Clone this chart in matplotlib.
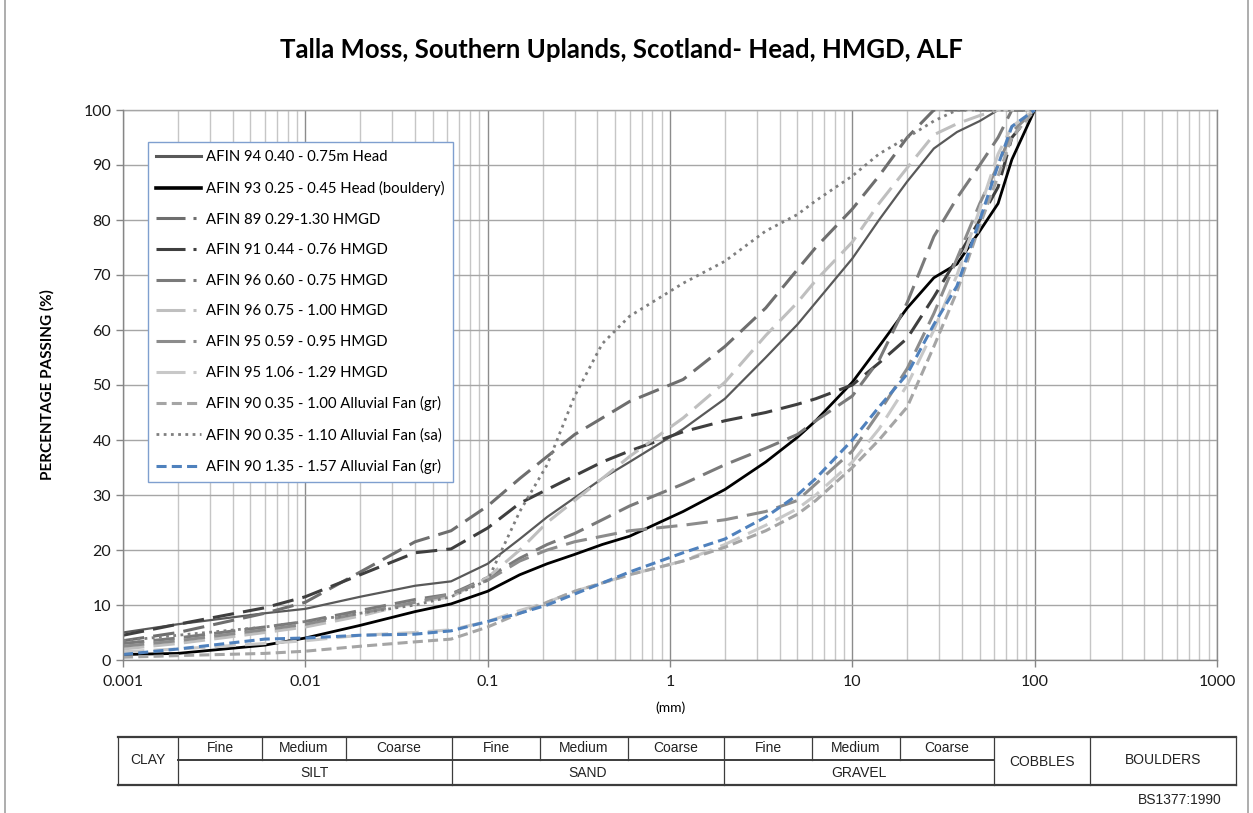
import matplotlib
matplotlib.use("Agg")
import matplotlib.pyplot as plt
from matplotlib.lines import Line2D
from matplotlib.ticker import LogLocator, FixedLocator, NullFormatter

plt.rcParams['font.family'] = ['Lato', 'DejaVu Sans']

# ---- particle size distribution data -------------------------------------
sizes_mm = [0.001, 0.002, 0.006, 0.01, 0.02, 0.04, 0.063, 0.1, 0.15, 0.212,
            0.3, 0.425, 0.6, 1.18, 2, 3.35, 5, 6.3, 10, 14, 20, 28, 37.5, 50,
            63, 75, 100]

afin94_head = [5.0, 6.5, 8.5, 9.3, 11.5, 13.5, 14.3, 17.5, 22, 26, 29.5, 33, 36,
               42, 47.5, 55, 61, 65, 73, 80, 87, 93, 96, 98, 100, 100, 100]
afin93_head = [1.0, 1.2, 2.7, 4.0, 6.3, 8.8, 10.2, 12.5, 15.5, 17.5, 19.2, 21,
               22.5, 27, 31, 36, 40.5, 43.5, 50.5, 57, 64, 69.5, 72, 78, 83, 91, 100]
afin89_hmgd = [3.5, 5.0, 8.5, 10.5, 16, 21.5, 23.5, 28, 33, 37, 41, 44, 47, 51,
               57, 64, 71, 75, 82, 88, 95, 100, 100, 100, 100, 100, 100]
afin91_hmgd = [4.5, 6.5, 9.5, 11.5, 15.5, 19.5, 20.2, 24, 28.5, 31, 33.5, 36, 38,
               41.5, 43.5, 45, 46.5, 47.5, 50, 54, 58.5, 66, 73, 80, 86, 95, 100]
afin96a_hmgd = [3.0, 4.0, 6.0, 7.0, 9.0, 11, 12, 15, 18.5, 21, 23, 25.5, 28, 32,
                35.5, 38.5, 41, 43.5, 48, 54.5, 65, 77, 84, 90, 95, 100, 100]
afin96b_hmgd = [2.0, 3.0, 5.0, 6.0, 8.0, 10.5, 11.5, 15, 20, 25, 29, 33, 37, 44,
                50.5, 59, 65, 69, 76, 83, 89.5, 95.5, 97.5, 99, 100, 100, 100]
afin95a_hmgd = [2.5, 3.5, 5.5, 6.5, 8.5, 10.5, 12, 14.5, 18, 20, 21.5, 22.5, 23.5,
                24.5, 25.5, 27, 29, 32, 38, 45, 53, 63, 73, 83, 90, 96, 100]
afin95b_hmgd = [1.5, 2.0, 3.0, 3.5, 4.5, 5.0, 5.5, 7, 9, 10.5, 12.5, 14, 15.5, 18,
                21, 24.5, 27.5, 30, 36, 42, 50, 60, 70, 82, 92, 97, 100]
afin90a_alf = [0.5, 0.8, 1.2, 1.6, 2.5, 3.3, 3.8, 6, 8.5, 10.5, 12.5, 14, 15.5,
               18, 20.5, 23.5, 26.5, 29, 35, 40, 46, 57, 67, 79, 88, 95, 100]
afin90b_alf = [3.5, 4.5, 6, 7, 8.5, 10, 11.5, 14.5, 27, 35.5, 48, 57.5, 62.5,
               68.5, 72.5, 78, 81, 83.5, 88, 92, 95, 98, 100, 100, 100, 100, 100]
afin90c_alf = [1.0, 2.0, 3.8, 4.0, 4.5, 4.7, 5.3, 7, 8.5, 10, 12, 14, 16, 19.5,
               22, 26, 30, 33, 40, 46, 52, 61, 68, 80, 90, 97, 100]

labels = ["AFIN 94 0.40 - 0.75m Head",
          "AFIN 93 0.25 - 0.45 Head (bouldery)",
          "AFIN 89 0.29-1.30 HMGD",
          "AFIN 91 0.44 - 0.76 HMGD",
          "AFIN 96 0.60 - 0.75 HMGD",
          "AFIN 96 0.75 - 1.00 HMGD",
          "AFIN 95 0.59 - 0.95 HMGD",
          "AFIN 95 1.06 - 1.29 HMGD",
          "AFIN 90 0.35 - 1.00 Alluvial Fan (gr)",
          "AFIN 90 0.35 - 1.10 Alluvial Fan (sa)",
          "AFIN 90 1.35 - 1.57 Alluvial Fan (gr)"]

x_ticks = [0.001, 0.01, 0.1, 1, 10, 100, 1000]
x_tick_labels = ["0.001", "0.01", "0.1", "1", "10", "100", "1000"]
y_ticks = list(range(0, 101, 10))

zone_top = ["Fine", "Medium", "Coarse", "Fine", "Medium", "Coarse",
            "Fine", "Medium", "Coarse"]
zone_groups = ["SILT", "SAND", "GRAVEL"]

# ---- line styles -----------------------------------------------------------
LONG = (7, 3)
SHORT = (3.3, 1.7)
DOT = (1, 1.6)
styles = [
    dict(color="#595959", lw=1.6, solid=True),
    dict(color="#000000", lw=2.0, solid=True),
    dict(color="#6e6e6e", lw=2.2, dashes=LONG),
    dict(color="#3f3f3f", lw=2.2, dashes=LONG),
    dict(color="#7a7a7a", lw=2.2, dashes=LONG),
    dict(color="#bfbfbf", lw=2.2, dashes=LONG),
    dict(color="#8c8c8c", lw=2.2, dashes=LONG),
    dict(color="#c8c8c8", lw=2.2, dashes=LONG),
    dict(color="#a5a5a5", lw=2.2, dashes=SHORT),
    dict(color="#7f7f7f", lw=2.0, dashes=DOT),
    dict(color="#4f81bd", lw=2.2, dashes=SHORT),
]
series = [afin94_head, afin93_head, afin89_hmgd, afin91_hmgd, afin96a_hmgd,
          afin96b_hmgd, afin95a_hmgd, afin95b_hmgd, afin90a_alf, afin90b_alf,
          afin90c_alf]

W, H = 1253, 813
fig = plt.figure(figsize=(W / 100, H / 100), dpi=100)
ax = fig.add_axes([123 / W, 1 - 660 / H, (1217 - 123) / W, 550 / H])

for vals, st in zip(series, styles):
    kw = dict(color=st["color"], lw=st["lw"], solid_joinstyle="round")
    if "dashes" in st:
        kw["dashes"] = st["dashes"]
        kw["dash_capstyle"] = "butt"
    ax.plot(sizes_mm, vals, **kw)

ax.set_xscale("log")
ax.set_xlim(0.001, 1000)
ax.set_ylim(0, 100)
ax.xaxis.set_major_locator(FixedLocator(x_ticks))
ax.set_xticklabels(x_tick_labels)
ax.xaxis.set_minor_locator(LogLocator(base=10, subs=range(2, 10), numticks=20))
ax.xaxis.set_minor_formatter(NullFormatter())
ax.set_yticks(y_ticks)

ax.grid(True, which="major", axis="x", color="#8c8c8c", lw=1.0)
ax.grid(True, which="minor", axis="x", color="#c6c6c6", lw=1.0)
ax.grid(True, which="major", axis="y", color="#a6a6a6", lw=1.0)
ax.set_axisbelow(True)
for side in ("top", "right"):
    ax.spines[side].set_visible(False)
for side in ("left", "bottom"):
    ax.spines[side].set_color("#868686")
    ax.spines[side].set_linewidth(1.0)
ax.axhline(100, color="#a6a6a6", lw=1.0, clip_on=False, zorder=0.5)
ax.axvline(1000, color="#8c8c8c", lw=1.0, clip_on=False, zorder=0.5)
ax.tick_params(axis="both", which="major", length=5, color="#868686",
               labelsize=11.5, labelcolor="#1a1a1a", width=1.0)
ax.tick_params(axis="x", which="minor", length=0)
ax.tick_params(axis="x", pad=6)

fig.text(47 / W, 1 - 385 / H, "PERCENTAGE PASSING (%)", rotation=90,
         ha="center", va="center", fontsize=11, fontweight="bold")
fig.text(670 / W, 1 - 708 / H, "(mm)", ha="center", va="center", fontsize=10)
fig.text(621 / W, 1 - 50 / H,
         "Talla Moss, Southern Uplands, Scotland- Head, HMGD, ALF",
         ha="center", va="center", fontsize=18.5, fontweight="bold")

# ---- legend ---------------------------------------------------------------
handles = []
for st in styles:
    if st.get("solid"):
        h = Line2D([], [], color=st["color"], lw=st["lw"] + 0.6)
    elif st.get("dashes") == LONG:
        h = Line2D([], [], color=st["color"], lw=st["lw"],
                   dashes=(9.5, 2.6, 1.0, 20))
    else:
        h = Line2D([], [], color=st["color"], lw=st["lw"], dashes=st["dashes"])
    handles.append(h)
leg = ax.legend(handles, labels, loc="upper left",
                bbox_to_anchor=(148 / W, 1 - 142 / H),
                bbox_transform=fig.transFigure, fontsize=10.7,
                handlelength=3.0, handletextpad=0.35, labelspacing=1.12,
                borderpad=0.55, borderaxespad=0, fancybox=False, framealpha=1)
leg.get_frame().set_edgecolor("#7f9fcf")
leg.get_frame().set_linewidth(1.0)

# ---- BS1377 classification strip -------------------------------------------
ov = fig.add_axes([0, 0, 1, 1], zorder=5)
ov.set_xlim(0, W)
ov.set_ylim(H, 0)
ov.axis("off")
ov.plot([5, 5], [0, H], color="#a0a0a0", lw=1.2)
ov.plot([1248, 1248], [0, H], color="#a0a0a0", lw=1.2)
tl, tr, tt, tm, tb = 118, 1236, 737, 760, 785
edge = "#3c3c3c"
ov.plot([tl, tr], [tt, tt], color=edge, lw=1.6)
ov.plot([tl, tr], [tb, tb], color=edge, lw=1.6)
ov.plot([178, 994], [tm, tm], color=edge, lw=1.4)
for xv in (tl, 178, 452, 724, 994, 1090, tr):
    ov.plot([xv, xv], [tt, tb], color=edge, lw=0.9)
for xv in (262, 346, 540, 628, 812, 900):
    ov.plot([xv, xv], [tt, tm], color=edge, lw=0.9)
tfam = ["Liberation Sans Narrow", "Liberation Sans"]
sub_edges = [178, 262, 346, 452, 540, 628, 724, 812, 900, 994]
for i, name in enumerate(zone_top):
    ov.text((sub_edges[i] + sub_edges[i + 1]) / 2, 748, name, ha="center",
            va="center", fontsize=10, family=tfam, color="#222222")
grp_edges = [178, 452, 724, 994]
for i, name in enumerate(zone_groups):
    ov.text((grp_edges[i] + grp_edges[i + 1]) / 2, 773, name, ha="center",
            va="center", fontsize=10, family=tfam, color="#222222")
ov.text((tl + 178) / 2, 760, "CLAY", ha="center", va="center", fontsize=10,
        family=tfam, color="#222222")
ov.text((994 + 1090) / 2, 762, "COBBLES", ha="center", va="center",
        fontsize=10, family=tfam, color="#222222")
ov.text((1090 + tr) / 2, 760, "BOULDERS", ha="center", va="center",
        fontsize=10, family=tfam, color="#222222")
ov.text(1222, 800, "BS1377:1990", ha="right", va="center", fontsize=10,
        family=tfam, color="#222222")

fig.savefig("out.png", dpi=100)
